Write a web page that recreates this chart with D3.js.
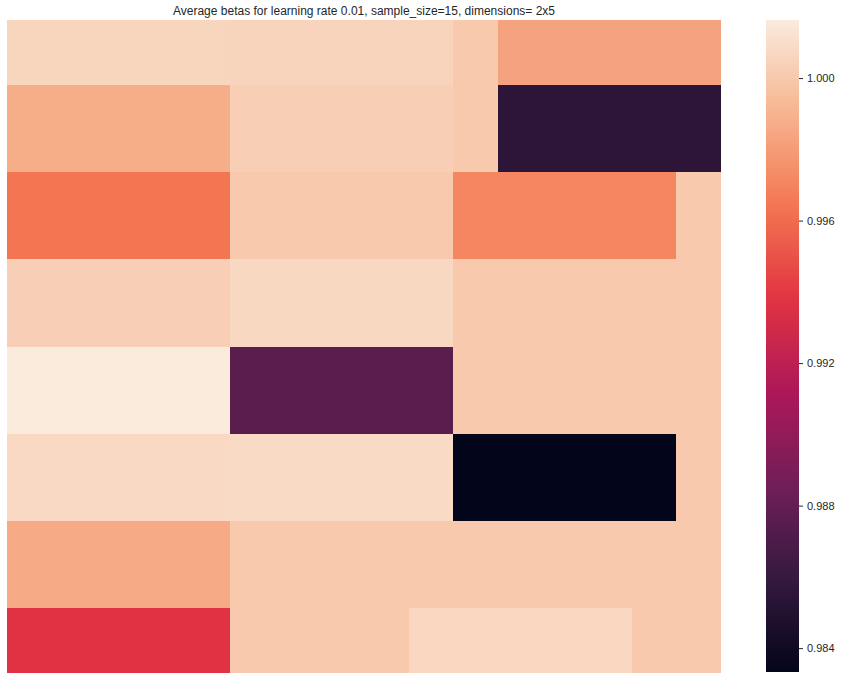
<!DOCTYPE html>
<html>
<head>
<meta charset="utf-8">
<script src="https://cdn.jsdelivr.net/npm/d3@7"></script>
<style>
  body { margin: 0; background: #fff; }
  text { font-family: "Liberation Sans", Arial, sans-serif; fill: #262626; }
</style>
</head>
<body>
<div id="chart"></div>
<script>
// Grid is 16 units wide, 15 units tall; each row is split into segments
const gridCols = 16;
const gridRows = 15;
const rowEdges = [0, 1.5, 3.5, 5.5, 7.5, 9.5, 11.5, 13.5, 15];

// start unit of each segment, per row (segment ends at next start / grid edge)
const segStarts = [
  [0, 5, 10, 11],
  [0, 5, 10, 11],
  [0, 5, 10, 15],
  [0, 5, 10],
  [0, 5, 10],
  [0, 5, 10, 15],
  [0, 5],
  [0, 5, 9, 14]
];

// average beta of each segment
const betas = [
  [1.00057, 1.00055, 1.00000, 0.99830],
  [0.99876, 1.00029, 1.00000, 0.98547],
  [0.99636, 1.00000, 0.99711, 1.00000],
  [1.00032, 1.00072, 1.00000],
  [1.00163, 0.98759, 1.00000],
  [1.00077, 1.00081, 0.98333, 1.00000],
  [0.99859, 1.00000],
  [0.99372, 1.00000, 1.00068, 1.00000]
];

const cbarTicks = [0.984, 0.988, 0.992, 0.996, 1.000];
const title = "Average betas for learning rate 0.01, sample_size=15, dimensions= 2x5";

// seaborn "rocket" colormap, approximated
const rocketStops = ["#03051a", "#35193e", "#701f57", "#ad1759", "#e13342", "#f37651", "#f6b48f", "#faebdd"];
const rocket = d3.piecewise(d3.interpolateRgb, rocketStops);

const width = 843;
const height = 680;
const plot = {left: 7, right: 721, top: 20, bottom: 673};
const cbar = {left: 766, right: 799, top: 20, bottom: 672};

const svg = d3.select("#chart")
  .append("svg")
  .attr("width", width)
  .attr("height", height);

const x = d3.scaleLinear().domain([0, gridCols]).range([plot.left, plot.right]);
const y = d3.scaleLinear().domain([0, gridRows]).range([plot.top, plot.bottom]);

const allVals = betas.flat();
const vmin = d3.min(allVals);
const vmax = d3.max(allVals);
const color = d3.scaleSequential(rocket).domain([vmin, vmax]);

// build cells from the segment lists
const cells = [];
segStarts.forEach((starts, r) => {
  starts.forEach((s, i) => {
    const e = i + 1 < starts.length ? starts[i + 1] : gridCols;
    cells.push({x0: s, x1: e, y0: rowEdges[r], y1: rowEdges[r + 1], v: betas[r][i]});
  });
});

svg.append("g")
  .selectAll("rect")
  .data(cells)
  .enter()
  .append("rect")
  .attr("x", d => x(d.x0))
  .attr("y", d => y(d.y0))
  .attr("width", d => x(d.x1) - x(d.x0))
  .attr("height", d => y(d.y1) - y(d.y0))
  .attr("fill", d => color(d.v))
  .attr("shape-rendering", "crispEdges");

// title
svg.append("text")
  .attr("x", (plot.left + plot.right) / 2)
  .attr("y", 15)
  .attr("text-anchor", "middle")
  .style("font-size", "12px")
  .text(title);

// colorbar
const defs = svg.append("defs");
const grad = defs.append("linearGradient")
  .attr("id", "cbar-grad")
  .attr("x1", 0).attr("y1", 1)
  .attr("x2", 0).attr("y2", 0);
d3.range(0, 1.0001, 0.02).forEach(t => {
  grad.append("stop")
    .attr("offset", t)
    .attr("stop-color", rocket(t));
});

svg.append("rect")
  .attr("x", cbar.left)
  .attr("y", cbar.top)
  .attr("width", cbar.right - cbar.left)
  .attr("height", cbar.bottom - cbar.top)
  .attr("fill", "url(#cbar-grad)");

const cy = d3.scaleLinear().domain([vmin, vmax]).range([cbar.bottom, cbar.top]);

const cAxis = svg.append("g")
  .attr("transform", `translate(${cbar.right},0)`)
  .call(d3.axisRight(cy).tickValues(cbarTicks).tickFormat(d3.format(".3f")).tickSize(4).tickPadding(4));

cAxis.select(".domain").remove();
cAxis.selectAll(".tick line").attr("stroke", "#262626").attr("stroke-width", 1);
cAxis.selectAll(".tick text")
  .style("font-size", "11px")
  .style("font-family", "'Liberation Sans', Arial, sans-serif")
  .attr("fill", "#262626");
</script>
</body>
</html>
